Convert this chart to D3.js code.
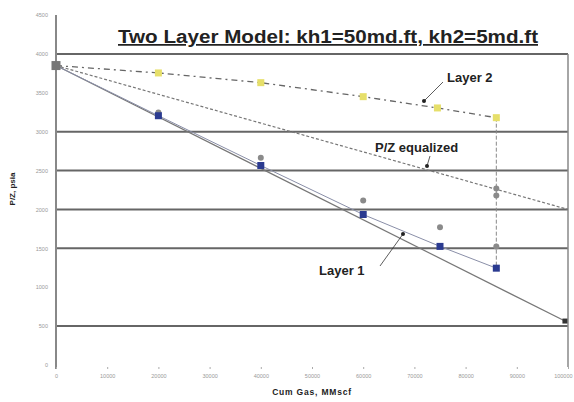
<!DOCTYPE html>
<html><head><meta charset="utf-8">
<script src="https://cdn.jsdelivr.net/npm/d3@7"></script>
<style>body{margin:0;background:#fff}svg{display:block}</style>
</head><body><svg id="c" width="574" height="402"></svg>
<script>
const xTicks = [0,10000,20000,30000,40000,50000,60000,70000,80000,90000,100000];
const yTicks = [0,500,1000,1500,2000,2500,3000,3500,4000,4500];
const gridVals = [500,1500,2000,2500,3000,4000];

const initialX = [0]; const initialY = [3850];
const layer2X = [0,20000,40000,60000,74500,86000];
const layer2Y = [3850,3755,3630,3450,3305,3180];
const layer1X = [0,20000,40000,60000,75000,86000];
const layer1Y = [3850,3205,2565,1935,1525,1245];
const avgX = [20000,40000,60000,75000,86000,86000,86000];
const avgY = [3245,2665,2115,1770,2270,2180,1525];
const layer1LineX = [0,99400]; const layer1LineY = [3850,565];
const eqLineX = [0,100000]; const eqLineY = [3850,2000];
const verticalX = [86000,86000]; const verticalY = [3180,1245];

const svg = d3.select('#c');
const x = d3.scaleLinear().domain([0,100000]).range([56,568]);
const y = d3.scaleLinear().domain([0,4500]).range([365,15]);

// grid lines
svg.selectAll('.g').data(gridVals).join('line')
  .attr('x1',x(0)).attr('x2',x(100000)).attr('y1',d=>y(d)).attr('y2',d=>y(d))
  .attr('stroke','#666').attr('stroke-width',2);
// right border
svg.append('line').attr('x1',x(100000)).attr('x2',x(100000)).attr('y1',y(4000)).attr('y2',y(0)+2)
  .attr('stroke','#888').attr('stroke-width',1.5);

// y axis
const ya = svg.append('g').attr('transform',`translate(${x(0)},0)`)
  .call(d3.axisLeft(y).tickValues(yTicks).tickSize(0).tickPadding(8).tickFormat(d3.format('d')));
ya.select('.domain').attr('stroke','#888').attr('stroke-width',2).attr('d',`M0,${y(4500)}V${y(0)+4}`);
ya.selectAll('text').attr('font-family','Arial').attr('font-size',5.5).attr('fill','#999');

// x axis
const xa = svg.append('g').attr('transform',`translate(0,${y(0)+2})`)
  .call(d3.axisBottom(x).tickValues(xTicks).tickSize(2).tickPadding(5).tickFormat(d3.format('d')));
xa.select('.domain').remove();
xa.selectAll('line').attr('stroke','#aaa');
xa.selectAll('text').attr('font-family','Arial').attr('font-size',5.5).attr('fill','#999');
xa.selectAll('text').filter(d=>d===100000).attr('text-anchor','end').attr('dx',4);

const line = d3.line().x(d=>x(d[0])).y(d=>y(d[1]));
const zip = (a,b)=>a.map((v,i)=>[v,b[i]]);

// P/Z equalized
svg.append('path').attr('d',line(zip(eqLineX,eqLineY))).attr('fill','none')
  .attr('stroke','#777').attr('stroke-width',1.2).attr('stroke-dasharray','3,2');
// layer 1 straight line
svg.append('path').attr('d',line(zip(layer1LineX,layer1LineY))).attr('fill','none')
  .attr('stroke','#777').attr('stroke-width',1.2);
// layer 1 connect
svg.append('path').attr('d',line(zip(layer1X,layer1Y))).attr('fill','none')
  .attr('stroke','#8a8fa8').attr('stroke-width',1);
// layer 2 dash-dot
svg.append('path').attr('d',line(zip(layer2X,layer2Y))).attr('fill','none')
  .attr('stroke','#666').attr('stroke-width',1.3).attr('stroke-dasharray','6,4,2,4');
// vertical
svg.append('path').attr('d',line(zip(verticalX,verticalY))).attr('fill','none')
  .attr('stroke','#888').attr('stroke-width',1).attr('stroke-dasharray','4,2');

// end marker
svg.append('rect').attr('x',x(layer1LineX[1])-2.5).attr('y',y(layer1LineY[1])-2.5).attr('width',5).attr('height',5).attr('fill','#333');

// gray circles
svg.selectAll('.a').data(zip(avgX,avgY)).join('circle')
  .attr('cx',d=>x(d[0])).attr('cy',d=>y(d[1])).attr('r',3).attr('fill','#8a8a8a');
// blue squares
svg.selectAll('.b').data(zip(layer1X,layer1Y).slice(1)).join('rect')
  .attr('x',d=>x(d[0])-3.5).attr('y',d=>y(d[1])-3.5).attr('width',7).attr('height',7).attr('fill','#2a3a90');
// yellow squares
svg.selectAll('.yl').data(zip(layer2X,layer2Y).slice(1)).join('rect')
  .attr('x',d=>x(d[0])-3.5).attr('y',d=>y(d[1])-3.5).attr('width',7).attr('height',7).attr('fill','#e6df6a');
// initial
svg.selectAll('.i').data(zip(initialX,initialY)).join('rect')
  .attr('x',d=>x(d[0])-4.5).attr('y',d=>y(d[1])-4.5).attr('width',9).attr('height',9).attr('fill','#777');

// annotations
function ann(t,tx,ty,lx1,ly1,lx2,ly2){
  svg.append('line').attr('x1',lx1).attr('y1',ly1).attr('x2',lx2).attr('y2',ly2).attr('stroke','#333').attr('stroke-width',0.8);
  svg.append('circle').attr('cx',lx2).attr('cy',ly2).attr('r',2).attr('fill','#222');
  svg.append('text').attr('x',tx).attr('y',ty).text(t).attr('font-family','Arial').attr('font-weight','bold')
    .attr('font-size',13).attr('fill','#222');
}
ann('Layer 2',447,82,443,82,424,101);
ann('P/Z equalized',375,152,430,156,427,166);
ann('Layer 1',319,275,380,266,403,234);

// title
svg.append('text').attr('x',118).attr('y',43).text('Two Layer Model: kh1=50md.ft, kh2=5md.ft')
  .attr('font-family','Arial').attr('font-weight','bold').attr('font-size',17.5).attr('fill','#222')
  .attr('text-decoration','underline').attr('textLength',420).attr('lengthAdjust','spacingAndGlyphs');

// axis titles
svg.append('text').attr('transform','translate(15,189) rotate(-90)').attr('text-anchor','middle')
  .text('P/Z, psia').attr('font-family','Arial').attr('font-weight','bold').attr('font-size',8).attr('fill','#222');
svg.append('text').attr('x',312).attr('y',395).attr('text-anchor','middle')
  .text('Cum Gas, MMscf').attr('font-family','Arial').attr('font-weight','bold').attr('font-size',8.5)
  .attr('fill','#222').attr('letter-spacing',0.8);
</script></body></html>
